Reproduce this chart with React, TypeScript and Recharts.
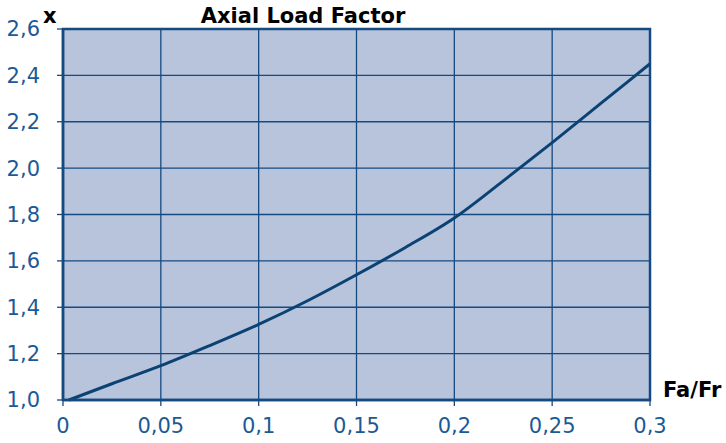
import React from "react";
import {
  LineChart,
  Line,
  XAxis,
  YAxis,
  CartesianGrid,
  ReferenceArea,
} from "recharts";

// Fa/Fr ratio and the axial load factor x
const ratio = [0.003, 0.025, 0.05, 0.075, 0.1, 0.125, 0.15, 0.175, 0.2, 0.225, 0.25, 0.275, 0.3];
const factor = [1.0, 1.07, 1.148, 1.235, 1.326, 1.428, 1.54, 1.658, 1.785, 1.945, 2.11, 2.28, 2.45];

const xTicks = [0, 0.05, 0.1, 0.15, 0.2, 0.25, 0.3];
const yTicks = [1.0, 1.2, 1.4, 1.6, 1.8, 2.0, 2.2, 2.4, 2.6];

const data = ratio.map((r, i) => ({ r, x: factor[i] }));

const BLUE = "#154a80";
const LABEL = "#1b5a96";
const tickFont = { fontFamily: "DejaVu Sans", fontSize: 21, fill: LABEL };
const boldFont = { fontFamily: "DejaVu Sans", fontWeight: "bold" as const, fontSize: 21, fill: "#000" };

const comma = (v: number) => String(v).replace(".", ",");
const commaFixed = (v: number) => v.toFixed(1).replace(".", ",");

const App = () => {
  return (
    <div style={{ position: "absolute", left: 0, top: 0, width: 726, height: 443, background: "#fff" }}>
      <LineChart
        width={726}
        height={443}
        data={data}
        margin={{ top: 29, right: 76, bottom: 0, left: 0 }}
      >
        <CartesianGrid stroke={BLUE} strokeWidth={1.3} fill="#b8c4dc" fillOpacity={1} />
        <XAxis
          dataKey="r"
          type="number"
          domain={[0, 0.3]}
          ticks={xTicks}
          tickFormatter={comma}
          height={43}
          tickSize={6}
          tickMargin={12}
          tick={tickFont}
          axisLine={{ stroke: BLUE, strokeWidth: 2.5 }}
          tickLine={{ stroke: BLUE, strokeWidth: 1.3 }}
        />
        <YAxis
          type="number"
          domain={[1, 2.6]}
          ticks={yTicks}
          tickFormatter={commaFixed}
          width={63}
          tickSize={6}
          tickMargin={17}
          tick={tickFont}
          axisLine={{ stroke: BLUE, strokeWidth: 2.5 }}
          tickLine={{ stroke: BLUE, strokeWidth: 1.3 }}
          interval={0}
        />
        <ReferenceArea x1={0} x2={0.3} y1={1} y2={2.6} fill="none" stroke={BLUE} strokeWidth={2.5} />
        <Line
          type="monotone"
          dataKey="x"
          stroke="#0b4274"
          strokeWidth={3}
          dot={false}
          isAnimationActive={false}
        />
      </LineChart>
      <svg
        width={726}
        height={443}
        style={{ position: "absolute", left: 0, top: 0, pointerEvents: "none" }}
      >
        <text x={303} y={23} textAnchor="middle" {...boldFont}>
          Axial Load Factor
        </text>
        <text x={43} y={23} {...boldFont}>
          x
        </text>
        <text x={663} y={397} {...boldFont}>
          Fa/Fr
        </text>
      </svg>
    </div>
  );
};

export default App;
